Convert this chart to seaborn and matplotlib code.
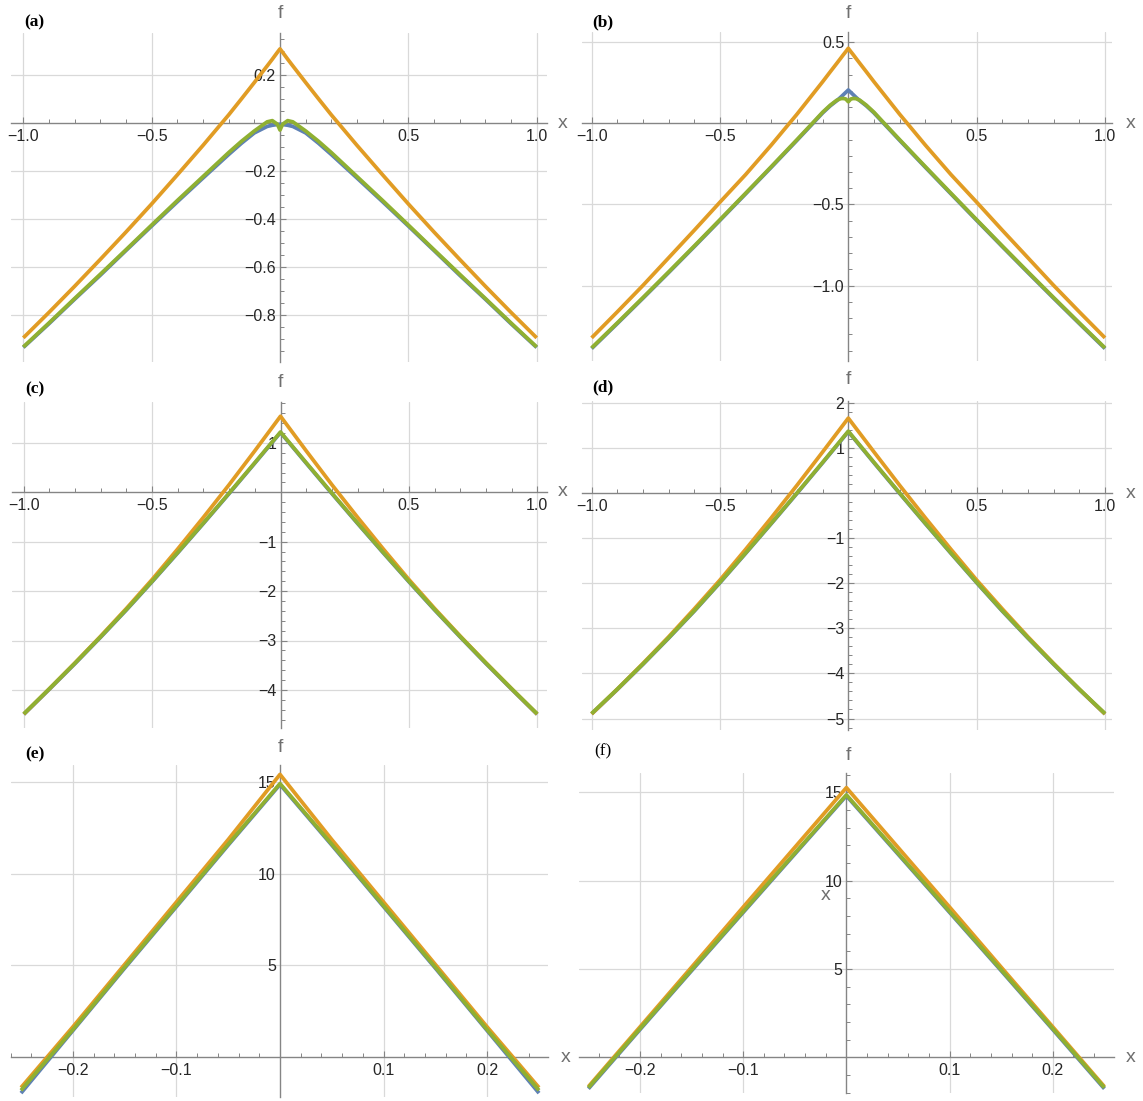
import numpy as np
import pandas as pd
import matplotlib
matplotlib.use("Agg")
import matplotlib.pyplot as plt
import seaborn as sns
from matplotlib.ticker import FixedLocator, MultipleLocator, NullLocator

sns.set_theme(style="white")
plt.rcParams["font.family"] = ["Liberation Sans", "DejaVu Sans"]
plt.rcParams["axes.unicode_minus"] = True

# ---------------------------------------------------------------------------
# Data: right half of each profile (every curve is even in x)
# ---------------------------------------------------------------------------
x_a = [0, 0.01, 0.03, 0.05, 0.1, 0.15, 0.2, 0.3, 0.4, 0.5, 0.6, 0.7, 0.8, 0.9, 1.0]
blue_a = [-0.004, -0.005, -0.008, -0.013, -0.04, -0.083, -0.13, -0.228, -0.327,
          -0.428, -0.53, -0.633, -0.733, -0.835, -0.934]
orange_a = [0.31, 0.296, 0.267, 0.239, 0.17, 0.102, 0.035, -0.092, -0.215,
            -0.336, -0.453, -0.567, -0.679, -0.788, -0.894]
green_a = [-0.028, -0.004, 0.011, 0.006, -0.032, -0.075, -0.122, -0.222, -0.322,
           -0.424, -0.527, -0.629, -0.73, -0.832, -0.932]

x_b = [0, 0.01, 0.02, 0.03, 0.045, 0.07, 0.1, 0.14, 0.2, 0.3, 0.4, 0.5, 0.6, 0.7,
       0.8, 0.9, 1.0]
blue_b = [0.205, 0.19, 0.175, 0.16, 0.139, 0.108, 0.064, -0.004, -0.105, -0.271,
          -0.435, -0.598, -0.76, -0.92, -1.078, -1.234, -1.388]
orange_b = [0.462, 0.441, 0.421, 0.40, 0.369, 0.318, 0.256, 0.176, 0.056, -0.134,
            -0.316, -0.486, -0.659, -0.829, -0.999, -1.162, -1.322]
green_b = [0.133, 0.15, 0.153, 0.152, 0.142, 0.112, 0.068, 0.0, -0.101, -0.267,
           -0.431, -0.594, -0.756, -0.916, -1.074, -1.23, -1.384]

x_c = [0, 0.1, 0.2, 0.3, 0.4, 0.5, 0.6, 0.7, 0.8, 0.9, 1.0]
blue_c = [1.21, 0.59, -0.025, -0.63, -1.225, -1.81, -2.38, -2.93, -3.465, -3.985, -4.495]
orange_c = [1.54, 0.84, 0.155, -0.505, -1.145, -1.765, -2.35, -2.91, -3.45, -3.975, -4.49]
green_c = [1.22, 0.60, -0.015, -0.62, -1.215, -1.80, -2.37, -2.92, -3.455, -3.975, -4.485]

x_d = [0, 0.1, 0.2, 0.3, 0.4, 0.5, 0.6, 0.7, 0.8, 0.9, 1.0]
blue_d = [1.36, 0.67, -0.01, -0.68, -1.34, -1.99, -2.62, -3.22, -3.80, -4.36, -4.90]
orange_d = [1.66, 0.91, 0.17, -0.55, -1.25, -1.93, -2.57, -3.19, -3.78, -4.35, -4.90]
green_d = [1.37, 0.68, 0.0, -0.67, -1.33, -1.98, -2.61, -3.21, -3.79, -4.35, -4.89]

x_e = [0, 0.05, 0.1, 0.15, 0.2, 0.25]
blue_e = [14.85, 11.55, 8.2, 4.85, 1.45, -1.95]
orange_e = [15.4, 11.85, 8.45, 5.05, 1.65, -1.65]
green_e = [14.9, 11.6, 8.25, 4.9, 1.5, -1.8]

x_f = [0, 0.05, 0.1, 0.15, 0.2, 0.25]
blue_f = [14.8, 11.5, 8.2, 4.9, 1.57, -1.78]
orange_f = [15.26, 11.88, 8.5, 5.1, 1.72, -1.66]
green_f = [14.85, 11.55, 8.25, 4.95, 1.62, -1.72]

# tick values and labels
xt_wide = [-1.0, -0.5, 0.5, 1.0]
xt_wide_lab = ["\u22121.0", "\u22120.5", "0.5", "1.0"]
xt_narrow = [-0.2, -0.1, 0.1, 0.2]
xt_narrow_lab = ["\u22120.2", "\u22120.1", "0.1", "0.2"]
yt_a = [0.2, -0.2, -0.4, -0.6, -0.8]
yt_a_lab = ["0.2", "\u22120.2", "\u22120.4", "\u22120.6", "\u22120.8"]
yt_b = [0.5, -0.5, -1.0]
yt_b_lab = ["0.5", "\u22120.5", "\u22121.0"]
yt_c = [1, -1, -2, -3, -4]
yt_c_lab = ["1", "\u22121", "\u22122", "\u22123", "\u22124"]
yt_d = [2, 1, -1, -2, -3, -4, -5]
yt_d_lab = ["2", "1", "\u22121", "\u22122", "\u22123", "\u22124", "\u22125"]
yt_ef = [5, 10, 15]
yt_ef_lab = ["5", "10", "15"]

panel_tags = ["(a)", "(b)", "(c)", "(d)", "(e)", "(f)"]

BLUE, ORANGE, GREEN = "#5E81B5", "#E19C24", "#8FB032"
AXIS_GRAY = "#858585"
GRID_GRAY = "#d9d9d9"
LABEL_GRAY = "#6f6f6f"

W, H = 1143, 1101
fig = plt.figure(figsize=(W / 100, H / 100), dpi=100)
fig.patch.set_facecolor("white")


def mirrored(xs, ys):
    xs = np.asarray(xs, float)
    ys = np.asarray(ys, float)
    return (np.concatenate([-xs[:0:-1], xs]),
            np.concatenate([ys[:0:-1], ys]))


def long_frame(xs, series):
    frames = []
    for name, ys in series:
        xx, yy = mirrored(xs, ys)
        frames.append(pd.DataFrame({"x": xx, "f": yy, "curve": name}))
    return pd.concat(frames, ignore_index=True)


# layout of each panel: pixel of the origin, pixels per unit and the plot range
panels = [
    dict(x0=280.0, xs=256.7, y0=123.3, ys=240.0, xlim=(-1.046, 1.040), ylim=(-0.995, 0.376),
         data=(x_a, blue_a, orange_a, green_a), xt=(xt_wide, xt_wide_lab), xminor=0.1,
         yt=(yt_a, yt_a_lab), yminor=0.05, f=(280, 14), xl=(563, 123), tag=(24, 22), bold=True),
    dict(x0=848.3, xs=256.7, y0=123.3, ys=162.3, xlim=(-1.039, 1.028), ylim=(-1.465, 0.561),
         data=(x_b, blue_b, orange_b, green_b), xt=(xt_wide, xt_wide_lab), xminor=0.1,
         yt=(yt_b, yt_b_lab), yminor=0.1, f=(848, 14), xl=(1131, 123), tag=(592, 22), bold=True),
    dict(x0=280.5, xs=256.7, y0=492.3, ys=49.4, xlim=(-1.046, 1.040), ylim=(-4.78, 1.834),
         data=(x_c, blue_c, orange_c, green_c), xt=(xt_wide, xt_wide_lab), xminor=0.1,
         yt=(yt_c, yt_c_lab), yminor=0.2, f=(280, 383), xl=(563, 491), tag=(25, 389), bold=True),
    dict(x0=848.3, xs=256.7, y0=493.0, ys=45.1, xlim=(-1.039, 1.028), ylim=(-5.255, 2.03),
         data=(x_d, blue_d, orange_d, green_d), xt=(xt_wide, xt_wide_lab), xminor=0.1,
         yt=(yt_d, yt_d_lab), yminor=0.2, f=(848, 380), xl=(1131, 493), tag=(592, 387), bold=True),
    dict(x0=280.0, xs=1036.0, y0=1057.3, ys=18.37, xlim=(-0.26, 0.259), ylim=(-2.15, 15.92),
         data=(x_e, blue_e, orange_e, green_e), xt=(xt_narrow, xt_narrow_lab), xminor=0.02,
         yt=(yt_ef, yt_ef_lab), yminor=None, f=(280, 748), xl=(566, 1057), tag=(25, 754), bold=True),
    dict(x0=846.4, xs=1032.0, y0=1057.3, ys=17.67, xlim=(-0.259, 0.259), ylim=(-2.04, 16.07),
         data=(x_f, blue_f, orange_f, green_f), xt=(xt_narrow, xt_narrow_lab), xminor=0.02,
         yt=(yt_ef, yt_ef_lab), yminor=1.0, f=(848, 755), xl=(1131, 1058), tag=(594, 751), bold=False),
]

for tag, p in zip(panel_tags, panels):
    left = p["x0"] + p["xlim"][0] * p["xs"]
    right = p["x0"] + p["xlim"][1] * p["xs"]
    top = p["y0"] - p["ylim"][1] * p["ys"]
    bottom = p["y0"] - p["ylim"][0] * p["ys"]
    ax = fig.add_axes([left / W, 1 - bottom / H, (right - left) / W, (bottom - top) / H])
    ax.set_facecolor("none")

    xs, yb, yo, yg = p["data"]
    df = long_frame(xs, [("blue", yb), ("orange", yo), ("green", yg)])
    sns.lineplot(data=df, x="x", y="f", hue="curve", ax=ax, estimator=None,
                 sort=False, linewidth=2.7, legend=False,
                 palette={"blue": BLUE, "orange": ORANGE, "green": GREEN},
                 hue_order=["blue", "orange", "green"])
    for ln in ax.get_lines():
        ln.set_solid_joinstyle("round")
        ln.set_solid_capstyle("butt")

    ax.set_xlim(*p["xlim"])
    ax.set_ylim(*p["ylim"])
    ax.set_xlabel("")
    ax.set_ylabel("")

    # grid lines at the labelled values only
    for v in p["xt"][0]:
        ax.axvline(v, color=GRID_GRAY, lw=0.9, zorder=0)
    for v in p["yt"][0]:
        ax.axhline(v, color=GRID_GRAY, lw=0.9, zorder=0)
    ax.grid(False)

    # axes through the origin
    for s in ("top", "right"):
        ax.spines[s].set_visible(False)
    ax.spines["left"].set_position(("data", 0))
    ax.spines["bottom"].set_position(("data", 0))
    for s in ("left", "bottom"):
        ax.spines[s].set_color(AXIS_GRAY)
        ax.spines[s].set_linewidth(1.0)
        ax.spines[s].set_zorder(1)

    ax.xaxis.set_major_locator(FixedLocator(p["xt"][0]))
    ax.set_xticklabels(p["xt"][1])
    ax.xaxis.set_minor_locator(MultipleLocator(p["xminor"]))
    ax.yaxis.set_major_locator(FixedLocator(p["yt"][0]))
    ax.set_yticklabels(p["yt"][1])
    if p["yminor"]:
        ax.yaxis.set_minor_locator(MultipleLocator(p["yminor"]))
        ylen = 4.3
    else:
        ax.yaxis.set_minor_locator(NullLocator())
        ylen = 0
    ax.tick_params(axis="x", which="both", bottom=True, top=False)
    ax.tick_params(axis="y", which="both", left=True, right=False)
    ax.tick_params(axis="x", which="major", direction="in", length=4.3, width=0.8,
                   color=AXIS_GRAY, labelsize=11.5, labelcolor="#262626", pad=4)
    ax.tick_params(axis="x", which="minor", direction="in", length=2.8, width=0.7,
                   color=AXIS_GRAY)
    ax.tick_params(axis="y", which="major", direction="in", length=ylen, width=0.8,
                   color=AXIS_GRAY, labelsize=11.5, labelcolor="#262626", pad=3)
    ax.tick_params(axis="y", which="minor", direction="in", length=2.8, width=0.7,
                   color=AXIS_GRAY)

    # axis names and panel tag
    fx, fy = p["f"]
    fig.text(fx / W, 1 - fy / H, "f", ha="center", va="center", fontsize=14,
             color=LABEL_GRAY)
    xx, xy = p["xl"]
    fig.text(xx / W, 1 - xy / H, "x", ha="center", va="center", fontsize=14,
             color=LABEL_GRAY)
    tx, ty = p["tag"]
    fig.text(tx / W, 1 - ty / H, tag, ha="left", va="center", fontsize=12.5,
             family=["Liberation Serif", "DejaVu Serif"],
             fontweight="bold" if p["bold"] else "normal", color="black")

# stray variable name sitting beside the f-axis of panel (f)
fig.text(826 / W, 1 - 896 / H, "x", ha="center", va="center", fontsize=14,
         color=LABEL_GRAY)

fig.savefig("out.png", dpi=100, facecolor="white")
